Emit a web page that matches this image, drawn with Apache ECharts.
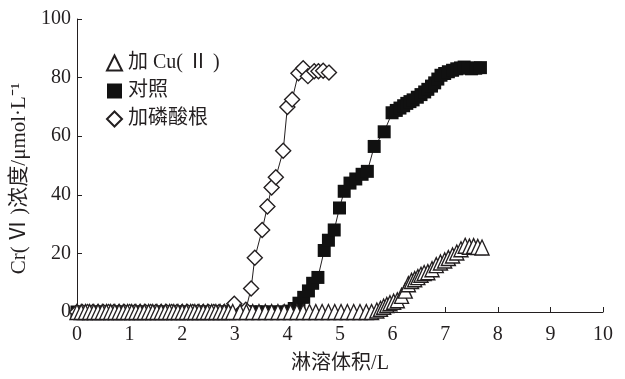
<!DOCTYPE html>
<html>
<head>
<meta charset="utf-8">
<script src="https://cdn.jsdelivr.net/npm/echarts@6/dist/echarts.min.js"></script>
<style>
  html, body { margin: 0; padding: 0; background: #fff; }
  #chart { width: 625px; height: 379px; }
</style>
</head>
<body>
<div id="chart"></div>
<script>
// Leached volume (L) and Cr(VI) concentration (µmol/L) for each treatment
const cuX = [0,0.08,0.16,0.24,0.32,0.4,0.48,0.56,0.64,0.72,0.8,0.88,0.96,1.04,1.12,1.2,1.28,1.36,1.44,1.52,1.6,1.68,1.76,1.84,1.92,2.0,2.08,2.16,2.24,2.32,2.4,2.48,2.56,2.64,2.72,2.8,2.88,2.96,3.1,3.22,3.34,3.46,3.58,3.7,3.82,3.94,4.06,4.18,4.3,4.42,4.54,4.66,4.78,4.9,5.02,5.14,5.26,5.38,5.5,5.6,
  5.7,5.77,5.83,5.89,5.95,6.02,6.09,6.17,6.24,6.3,6.36,6.42,6.48,6.54,6.6,6.67,6.75,6.83,6.91,6.99,7.06,7.14,7.22,7.3,7.38,7.46,7.54,7.62,7.7];
const cuY = [0,0,0,0,0,0,0,0,0,0,0,0,0,0,0,0,0,0,0,0,0,0,0,0,0,0,0,0,0,0,0,0,0,0,0,0,0,0,0,0,0,0,0,0,0,0,0,0,0,0,0,0,0,0,0,0,0,0,0,0,
  0.5,1.1,1.8,2.4,3,3.5,4,5.5,7.3,9.5,10.6,11.2,11.9,12.7,13.3,13.6,14.6,16,16.9,17.6,18.4,19.3,20.3,21.4,22.6,22.3,22.5,22.2,22];

const ctrlX = [0,0.1,0.2,0.3,0.4,0.5,0.6,0.7,0.8,0.9,1.0,1.1,1.2,1.3,1.4,1.5,1.6,1.7,1.8,1.9,2.0,2.1,2.2,2.3,2.4,2.5,2.6,2.7,2.8,2.9,3.0,3.1,3.2,3.3,3.4,3.5,3.6,3.7,3.8,3.9,
  4.03,4.13,4.22,4.31,4.4,4.48,4.58,4.7,4.78,4.89,4.99,5.08,5.19,5.3,5.42,5.52,5.65,5.84,5.99,6.07,6.14,6.21,6.27,6.33,6.39,6.47,6.54,6.61,6.67,6.74,6.8,6.86,6.92,6.99,7.06,7.14,7.22,7.29,7.36,7.43,7.5,7.58,7.67];
const ctrlY = [0,0,0,0,0,0,0,0,0,0,0,0,0,0,0,0,0,0,0,0,0,0,0,0,0,0,0,0,0,0,0,0,0,0,0,0,0,0,0,0,
  0.3,1.2,3,5,7.2,9.8,11.8,21,24.5,28,35.5,41.2,44,45.4,47,48,56.5,61.5,68,68.8,69.6,70.4,71.2,71.8,72.4,73.3,74.2,75.1,76,77.1,78.2,79.5,80.8,81.4,82,82.5,83,83.3,83.6,83.3,83,83.2,83.4];

const phosX = [0,0.1,0.2,0.3,0.4,0.5,0.6,0.7,0.8,0.9,1.0,1.1,1.2,1.3,1.4,1.5,1.6,1.7,1.8,1.9,2.0,2.1,2.2,2.3,2.4,2.5,2.6,2.7,2.8,2.9,
  2.99,3.21,3.31,3.38,3.52,3.62,3.7,3.78,3.92,4.0,4.09,4.21,4.3,4.39,4.51,4.59,4.68,4.79];
const phosY = [0,0,0,0,0,0,0,0,0,0,0,0,0,0,0,0,0,0,0,0,0,0,0,0,0,0,0,0,0,0,
  2.8,0.8,8,18.5,28,36,42.5,46,55,70,72.5,81.5,83.2,80.5,82.2,82.2,82.3,81.7];

const xTicks = [0,1,2,3,4,5,6,7,8,9,10];
const yTicks = [0,20,40,60,80,100];

const names = ['加 Cu( Ⅱ )', '对照', '加磷酸根'];

const pairs = (xs, ys) => xs.map((x, i) => [x, ys[i]]);

const serif = 'Liberation Serif, "Noto Sans CJK SC", serif';
const ink = '#231f20';

const chart = echarts.init(document.getElementById('chart'), null, { renderer: 'canvas' });

const lineStyle = { color: ink, width: 1 };

chart.setOption({
  animation: false,
  grid: { left: 77, right: 22, top: 19, bottom: 63 },
  legend: {
    orient: 'vertical',
    left: 101,
    top: 48,
    itemWidth: 15,
    itemHeight: 15,
    itemGap: 8,
    textStyle: { fontFamily: serif, fontSize: 20, color: ink, padding: [0, 0, 0, 1] },
    data: [
      { name: names[0], icon: 'triangle' },
      { name: names[1], icon: 'rect' },
      { name: names[2], icon: 'diamond' }
    ]
  },
  xAxis: {
    type: 'value',
    min: xTicks[0],
    max: xTicks[xTicks.length - 1],
    interval: 1,
    name: '淋溶体积/L',
    nameLocation: 'middle',
    nameGap: 42,
    nameTextStyle: { fontFamily: serif, fontSize: 20, color: ink },
    axisLine: { lineStyle: { color: ink, width: 1 } },
    axisTick: { inside: true, length: 5, lineStyle: { color: ink } },
    axisLabel: { fontFamily: serif, fontSize: 20, color: ink, margin: 13 },
    splitLine: { show: false }
  },
  yAxis: {
    type: 'value',
    min: yTicks[0],
    max: yTicks[yTicks.length - 1],
    interval: 20,
    name: 'Cr( Ⅵ )浓度/μmol·L⁻¹',
    nameLocation: 'middle',
    nameGap: 44,
    nameTextStyle: { fontFamily: serif, fontSize: 21, color: ink, padding: [0, 26, 0, 0] },
    axisLine: { show: true, lineStyle: { color: ink, width: 1 } },
    axisTick: { show: true, inside: true, length: 5, lineStyle: { color: ink } },
    axisLabel: { fontFamily: serif, fontSize: 20, color: ink, margin: 6 },
    splitLine: { show: false }
  },
  series: [
    {
      name: names[1],
      type: 'line',
      data: pairs(ctrlX, ctrlY),
      symbol: 'rect',
      symbolSize: 13,
      lineStyle: lineStyle,
      itemStyle: { color: '#111', borderColor: '#111', borderWidth: 0 }
    },
    {
      name: names[2],
      type: 'line',
      data: pairs(phosX, phosY),
      symbol: 'diamond',
      symbolSize: 15,
      lineStyle: lineStyle,
      itemStyle: { color: '#fff', borderColor: ink, borderWidth: 1.4 }
    },
    {
      name: names[0],
      type: 'line',
      data: pairs(cuX, cuY),
      symbol: 'triangle',
      symbolSize: [14, 15],
      lineStyle: lineStyle,
      itemStyle: { color: '#fff', borderColor: ink, borderWidth: 1.4 }
    }
  ]
});
</script>
</body>
</html>
